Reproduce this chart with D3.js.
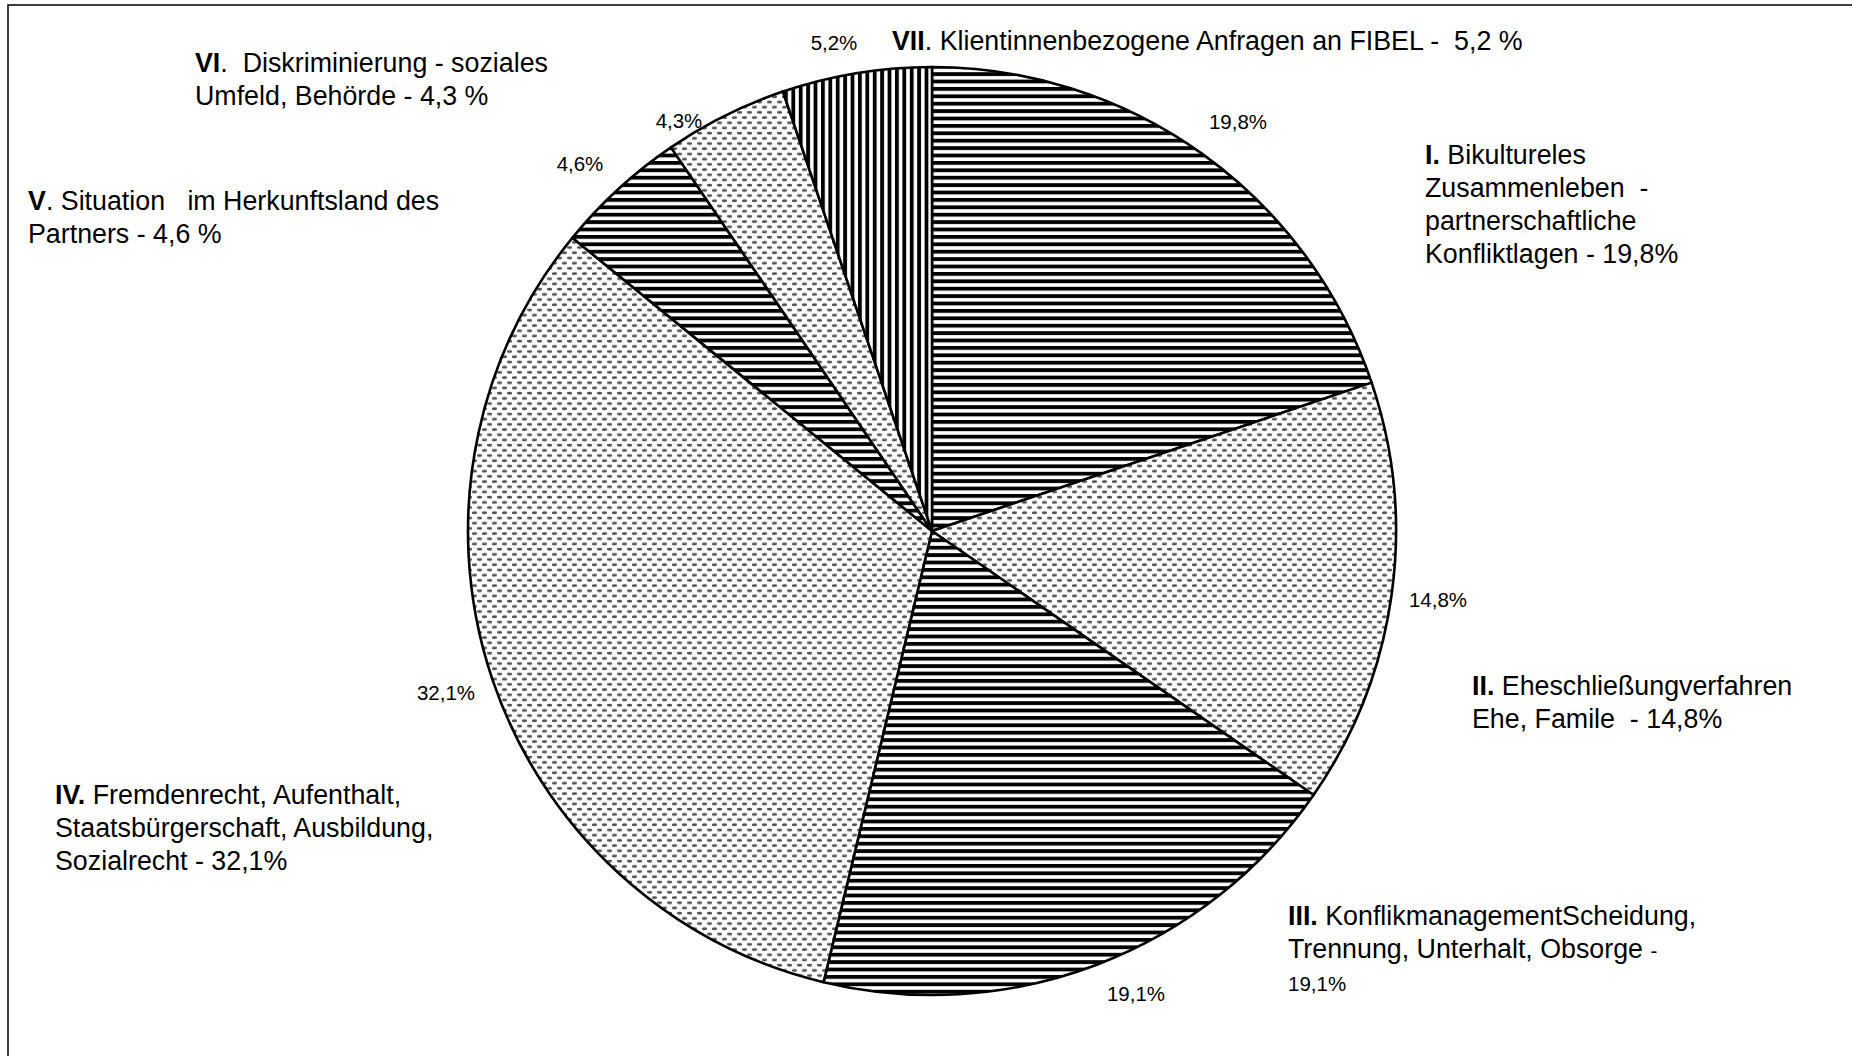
<!DOCTYPE html>
<html><head><meta charset="utf-8">
<script src="https://cdn.jsdelivr.net/npm/d3@7"></script>
<style>html,body{margin:0;padding:0;background:#fff;overflow:hidden}</style>
</head><body>
<svg id="chart" width="1852" height="1056"></svg>
<script>
// ---------- data ----------
const categories = ["I", "II", "III", "IV", "V", "VI", "VII"];
const values = [19.8, 14.8, 19.1, 32.1, 4.6, 4.3, 5.2];
const valueLabels = ["19,8%", "14,8%", "19,1%", "32,1%", "4,6%", "4,3%", "5,2%"];
const fillPatterns = ["hstripe", "dots", "hstripe", "dots", "hstripe", "dots", "vstripe"];
// category texts: lines of runs (b = bold, t = regular, s = small)
const categoryTexts = [
  [[{b:"I. "},{t:"Bikultureles"}],[{t:"Zusammenleben  -"}],[{t:"partnerschaftliche"}],[{t:"Konfliktlagen - 19,8%"}]],
  [[{b:"II. "},{t:"Eheschließungverfahren"}],[{t:"Ehe, Famile  - 14,8%"}]],
  [[{b:"III. "},{t:"KonflikmanagementScheidung,"}],[{t:"Trennung, Unterhalt, Obsorge "},{s:"-"}],[{s:"19,1%"}]],
  [[{b:"IV. "},{t:"Fremdenrecht, Aufenthalt,"}],[{t:"Staatsbürgerschaft, Ausbildung,"}],[{t:"Sozialrecht - 32,1%"}]],
  [[{b:"V"},{t:". Situation   im Herkunftsland des"}],[{t:"Partners - 4,6 %"}]],
  [[{b:"VI"},{t:".  Diskriminierung - soziales"}],[{t:"Umfeld, Behörde - 4,3 %"}]],
  [[{b:"VII"},{t:". Klientinnenbezogene Anfragen an FIBEL -  5,2 %"}]]
];

// ---------- layout (not data) ----------
const W = 1852, H = 1056;
const cx = 932, cy = 531, R = 464;
const valueLabelPos = [[1238,129],[1438,607],[1136,1001],[446,700],[580,171],[679,128],[834,50]];
const categoryPos = [[1425,164],[1472,695],[1288,925],[55,804],[28,210],[195,72],[892,50]];
const lineH = 33;
const bigFont = 26.8, smallFont = 20.5;
const fontFam = "'Liberation Sans', Arial, Helvetica, sans-serif";

const svg = d3.select("#chart");
svg.append("rect").attr("width", W).attr("height", H).attr("fill", "#fff");

// patterns
const defs = svg.append("defs");
const ph = defs.append("pattern").attr("id","hstripe").attr("patternUnits","userSpaceOnUse")
  .attr("width", 8).attr("height", 7.4);
ph.append("rect").attr("width",8).attr("height",7.4).attr("fill","#fff");
ph.append("rect").attr("width",8).attr("height",3.8).attr("fill","#000");
const pv = defs.append("pattern").attr("id","vstripe").attr("patternUnits","userSpaceOnUse")
  .attr("width", 7.4).attr("height", 8);
pv.append("rect").attr("width",7.4).attr("height",8).attr("fill","#fff");
pv.append("rect").attr("width",3.8).attr("height",8).attr("fill","#000");
const pd = defs.append("pattern").attr("id","dots").attr("patternUnits","userSpaceOnUse")
  .attr("width", 10).attr("height", 10.4);
pd.append("rect").attr("width",10).attr("height",10.4).attr("fill","#fff");
[[2.5,2.6],[7.5,7.8]].forEach(([x,y]) => {
  pd.append("ellipse").attr("cx",x).attr("cy",y).attr("rx",2.7).attr("ry",1.35).attr("fill","#555");
});

// frame
svg.append("rect").attr("x", 8).attr("y", 5).attr("width", W + 20).attr("height", H + 20)
  .attr("fill","none").attr("stroke","#000").attr("stroke-width",1.5);

// pie
const pie = d3.pie().sort(null).value(d => d.v).startAngle(0).endAngle(2*Math.PI);
const arc = d3.arc().innerRadius(0).outerRadius(R);
const rows = categories.map((c,i) => ({c, v: values[i], p: fillPatterns[i]}));
const g = svg.append("g").attr("transform", `translate(${cx},${cy})`);
g.selectAll("path.slice").data(pie(rows)).join("path")
  .attr("class","slice")
  .attr("d", arc)
  .attr("fill", d => `url(#${d.data.p})`)
  .attr("stroke", "#000").attr("stroke-width", 2.6).attr("stroke-linejoin","round");

// value labels
svg.selectAll("text.val").data(valueLabels).join("text")
  .attr("class","val")
  .attr("x", (d,i) => valueLabelPos[i][0]).attr("y", (d,i) => valueLabelPos[i][1])
  .attr("text-anchor","middle")
  .attr("font-family", fontFam).attr("font-size", smallFont).attr("fill","#000")
  .text(d => d);

// category labels
categoryTexts.forEach((lines, i) => {
  const t = svg.append("text").attr("font-family", fontFam).attr("font-size", bigFont)
    .attr("fill","#000").style("white-space","pre");
  lines.forEach((runs, li) => {
    runs.forEach((r, ri) => {
      const ts = t.append("tspan");
      if (ri === 0) ts.attr("x", categoryPos[i][0]).attr("y", categoryPos[i][1] + li*lineH);
      if (r.b) ts.attr("font-weight","bold").text(r.b);
      else if (r.s) ts.attr("font-size", smallFont).text(r.s);
      else ts.text(r.t);
    });
  });
});
</script>
</body></html>
